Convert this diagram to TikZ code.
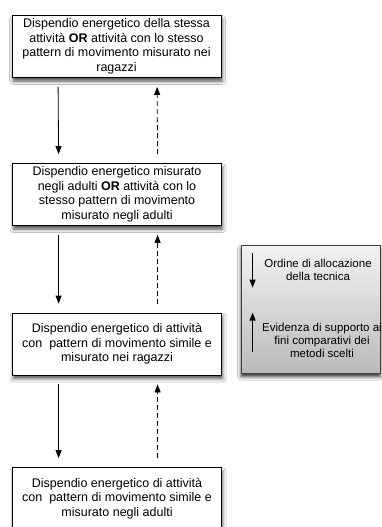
\documentclass[tikz,border=0pt]{standalone}
\usepackage{fontspec}
\setmainfont{Liberation Sans}
\usetikzlibrary{shadows.blur, arrows.meta}

\begin{document}
\begin{tikzpicture}[x=1pt, y=-1pt,
  stage/.style={draw=black, line width=0.8pt, fill=white,
    minimum width=209pt, minimum height=62pt, inner sep=0pt,
    align=center, font=\fontsize{12.5}{14.5}\selectfont,
    blur shadow={shadow xshift=1pt, shadow yshift=-3.5pt,
      shadow blur radius=3.5pt, shadow opacity=70}},
  legendbox/.style={draw=black!75, line width=0.8pt,
    top color=black!5, bottom color=black!27,
    minimum width=139pt, minimum height=128pt, inner sep=0pt,
    blur shadow={shadow xshift=0pt, shadow yshift=-3.5pt,
      shadow blur radius=3.5pt, shadow opacity=85}},
  legendtext/.style={align=center, inner sep=0pt,
    font=\fontsize{11.5}{13}\selectfont},
  downarrow/.style={line width=0.8pt, -{Triangle[width=6pt,length=8pt]}},
  uparrow/.style={line width=0.8pt, dash pattern=on 5pt off 3pt,
    -{Triangle[width=6pt,length=8pt]}},
  legarrow/.style={line width=0.8pt, -{Triangle[width=6pt,length=8pt]}}
]
\path[fill=white] (0,0) rectangle (382,527);
\useasboundingbox (0,0) rectangle (382,527);

% the four stages, top to bottom
\node[stage] (s1) at (116.5,46.5) {Dispendio energetico della stessa\\
  attività \textbf{OR} attività con lo stesso\\
  pattern di movimento misurato nei\\ragazzi};
\node[stage] (s2) at (117,194.5) {Dispendio energetico misurato\\
  negli adulti \textbf{OR} attività con lo\\
  stesso pattern di movimento\\misurato negli adulti};
\node[stage] (s3) at (117,344) {Dispendio energetico di attività\\
  con\ \ pattern di movimento simile e\\misurato nei ragazzi};
\node[stage] (s4) at (117,498.5) {Dispendio energetico di attività\\
  con\ \ pattern di movimento simile e\\misurato negli adulti};

% allocation order (solid, downwards) and supporting evidence (dashed, upwards)
\foreach \a/\b in {s1/s2, s2/s3, s3/s4}{
  \draw[downarrow] ([xshift=46.5pt,yshift=-9pt]\a.south west)
                -- ([xshift=46.5pt,yshift=9pt]\b.north west);
  \draw[uparrow]   ([xshift=145.5pt,yshift=9pt]\b.north west)
                -- ([xshift=145.5pt,yshift=-9pt]\a.south west);
}

% legend
\node[legendbox] (leg) at (310.5,309) {};
\coordinate (ldtop) at ([xshift=12pt,yshift=-8pt]leg.north west);
\coordinate (ldbot) at ([xshift=12pt,yshift=-43pt]leg.north west);
\coordinate (lutop) at ([xshift=12pt,yshift=-68pt]leg.north west);
\coordinate (lubot) at ([xshift=12pt,yshift=-107pt]leg.north west);
\draw[legarrow] (ldtop) -- (ldbot);
\draw[legarrow] (lubot) -- (lutop);
\node[legendtext] (ordine) at (318,269.5) {Ordine di allocazione\\della tecnica};
\node[legendtext] (evidenza) at (322,340.5) {Evidenza di supporto ai\\
  fini comparativi dei\\metodi scelti};
\end{tikzpicture}
\end{document}
